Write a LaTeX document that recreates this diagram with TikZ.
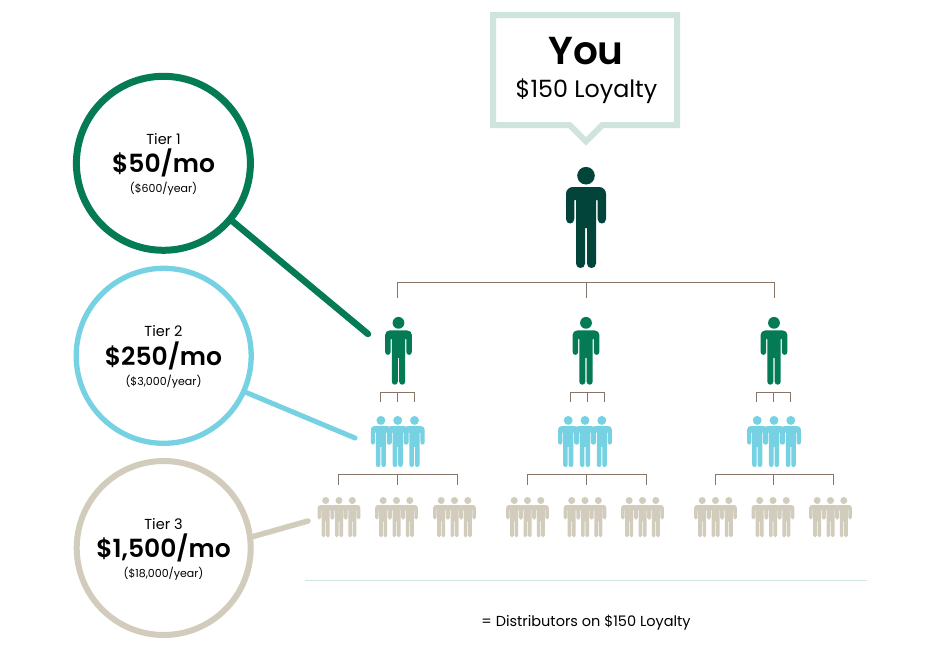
\documentclass[tikz,border=0pt]{standalone}
\usepackage{fontspec}
\setmainfont{Poppins}[BoldFont={Poppins SemiBold}]
\definecolor{cdark}{HTML}{03443A}
\definecolor{cgreen}{HTML}{047A55}
\definecolor{cblue}{HTML}{76D2E2}
\definecolor{cbeige}{HTML}{D2CCBD}
\definecolor{cmint}{HTML}{CFE4DC}
\definecolor{cline}{HTML}{857669}
\tikzset{
  x=1pt,y=-1pt,
  person/.pic={
    \fill[pic actions] (0,8.7) circle[radius=8.8];
    \fill[pic actions] (-13,20) -- (13,20) .. controls (17,20) and (20,23) .. (20,27)
      -- (20,52) .. controls (20,58) and (11.7,58) .. (11.7,52) -- (11.7,33) -- (10,33)
      -- (10,96.5) .. controls (10,102.5) and (1,102.5) .. (1,96.5) -- (1,61) -- (-1,61)
      -- (-1,96.5) .. controls (-1,102.5) and (-10,102.5) .. (-10,96.5) -- (-10,33) -- (-11.7,33)
      -- (-11.7,52) .. controls (-11.7,58) and (-20,58) .. (-20,52) -- (-20,27)
      .. controls (-20,23) and (-17,20) .. (-13,20) -- cycle;
  },
  trio/.pic={
    \pic[fill=cblue,scale=.505] at (-16.8,0) {person};
    \pic[fill=cblue,scale=.505] at (16.8,0) {person};
    \pic[fill=cblue,scale=.505] at (0,0) {person};
  },
  trioB/.pic={
    \pic[fill=cbeige,scale=.4] at (-13.3,0) {person};
    \pic[fill=cbeige,scale=.4] at (13.3,0) {person};
    \pic[fill=cbeige,scale=.4] at (0,0) {person};
  },
  conn/.style={draw=cline,line width=1pt},
  ring/.style={circle,outer sep=0pt,inner sep=0pt,fill=white,draw=#1},
  leader/.style={draw=#1,line cap=round},
  t/.style={anchor=base,inner sep=0pt,text=black},
}
\begin{document}
\begin{tikzpicture}
\useasboundingbox (0,0) rectangle (930,653);
\fill[white] (0,0) rectangle (930,653);

% callout
\draw[cmint,line width=6pt,miter limit=10,fill=white] (493,15) -- (677,15) -- (677,125) -- (602.3,125) -- (586,141.3) -- (569.7,125) -- (493,125) -- cycle;
\node[t,font=\bfseries\fontsize{39}{39}\selectfont] (you) at (586,64) {You};
\node[t,font=\fontsize{23.8}{24}\selectfont] (loy) at (586.5,97) {\$150 Loyalty};

% persons
\pic[fill=cdark] at (586,167) {person};
\foreach \x in {398.5,586,774}
  \pic[fill=cgreen,scale=.67] at (\x,317) {person};
\foreach \x in {397.7,585,774}
  \pic at (\x,416) {trio};
\foreach \x in {339,396.5,454.5,527.5,585,642.5,715.5,773,830.5}
  \pic at (\x,497) {trioB};

% connector points
\coordinate (h0) at (586.5,282);
\coordinate (a1) at (397.5,298); \coordinate (a2) at (586.5,298); \coordinate (a3) at (774.5,298);
\draw[conn] (h0) -| (a1); \draw[conn] (h0) -| (a3); \draw[conn] (h0) -- (a2);
\foreach \n/\c in {1/397.5,2/587,3/773.7} {
  \coordinate (s\n) at (\c,392);
  \coordinate (sl\n) at (\c-17,402); \coordinate (sm\n) at (\c,402); \coordinate (sr\n) at (\c+17,402);
  \draw[conn] (s\n) -| (sl\n); \draw[conn] (s\n) -| (sr\n); \draw[conn] (s\n) -- (sm\n);
}
\foreach \n/\c/\l/\r in {1/397.5/338.5/457.5,2/586.3/527/646.7,3/773.5/715.3/833} {
  \coordinate (b\n) at (\c,474);
  \coordinate (bl\n) at (\l,485); \coordinate (bm\n) at (\c,485); \coordinate (br\n) at (\r,485);
  \draw[conn] (b\n) -| (bl\n); \draw[conn] (b\n) -| (br\n); \draw[conn] (b\n) -- (bm\n);
}

% leaders and tier rings
\coordinate (e1) at (368,334);
\coordinate (e2) at (355,438);
\coordinate (e3) at (308,521);
\node[ring=cgreen,line width=7pt,minimum size=174pt] (tier1) at (163.4,163.3) {};
\node[ring=cblue,line width=5.3pt,minimum size=175pt] (tier2) at (163.7,355.8) {};
\node[ring=cbeige,line width=6pt,minimum size=174pt] (tier3) at (163.7,548) {};
\draw[leader=cgreen,line width=6.5pt] (tier1.-40) -- (e1);
\draw[leader=cblue,line width=5pt] (tier2.-24) -- (e2);
\draw[leader=cbeige,line width=5.5pt] (tier3.7) -- (e3);

\node[t,font=\fontsize{14.5}{14}\selectfont] (t1a) at (163.5,144) {Tier 1};
\node[t,font=\bfseries\fontsize{25}{25}\selectfont] (t1b) at (163.5,172) {\$50/mo};
\node[t,font=\fontsize{11}{11}\selectfont] (t1c) at (163.5,192) {(\$600/year)};
\node[t,font=\fontsize{14.5}{14}\selectfont] (t2a) at (163.5,336.5) {Tier 2};
\node[t,font=\bfseries\fontsize{25}{25}\selectfont] (t2b) at (163.5,365) {\$250/mo};
\node[t,font=\fontsize{11}{11}\selectfont] (t2c) at (163.5,385) {(\$3,000/year)};
\node[t,font=\fontsize{14.5}{14}\selectfont] (t3a) at (163.5,529) {Tier 3};
\node[t,font=\bfseries\fontsize{25}{25}\selectfont] (t3b) at (163.5,557) {\$1,500/mo};
\node[t,font=\fontsize{11}{11}\selectfont] (t3c) at (163.5,577) {(\$18,000/year)};

% footer
\coordinate (fl) at (305,580.5); \coordinate (fr) at (867,580.5);
\draw[cmint,line width=1pt] (fl) -- (fr);
\node[t,font=\fontsize{14.5}{14.5}\selectfont] (foot) at (586,626) {= Distributors on \$150 Loyalty};
\end{tikzpicture}
\end{document}
